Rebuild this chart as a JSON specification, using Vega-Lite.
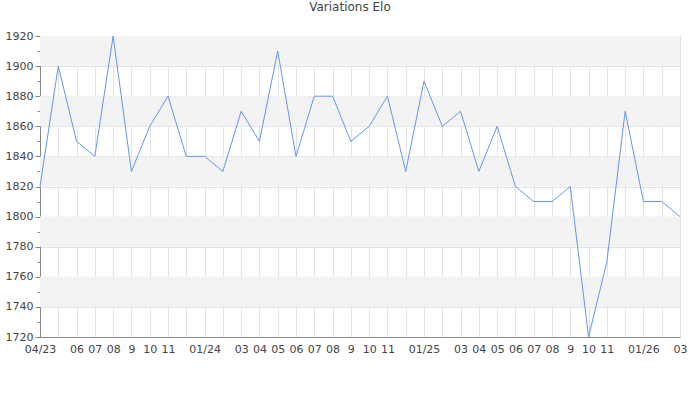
{
  "$schema": "https://vega.github.io/schema/vega-lite/v6.json",
  "autosize": "none",
  "padding": {"left": 40, "top": 36, "right": 20, "bottom": 63},
  "width": 640,
  "height": 301,
  "background": "white",
  "title": {
    "text": "Variations Elo",
    "font": "DejaVu Sans",
    "fontSize": 12,
    "fontWeight": "normal",
    "color": "#444",
    "anchor": "middle",
    "dx": -10,
    "offset": 16
  },
  "config": {
    "view": {"stroke": null},
    "axis": {"labelFont": "DejaVu Sans", "labelFontSize": 11, "labelColor": "#444", "domainColor": "#888", "tickColor": "#888", "gridColor": "#e2e2e2", "gridWidth": 1}
  },
  "layer": [
    {
      "data": {"values": [
        {"lo": 1740, "hi": 1760}, {"lo": 1780, "hi": 1800}, {"lo": 1820, "hi": 1840}, {"lo": 1860, "hi": 1880}, {"lo": 1900, "hi": 1920}
      ]},
      "mark": {"type": "rect", "color": "#f3f3f3"},
      "encoding": {
        "y": {
          "field": "lo", "type": "quantitative",
          "scale": {"domain": [1720, 1920], "nice": false, "zero": false},
          "axis": {
            "title": null, "grid": true, "format": "d",
            "values": [1720, 1730, 1740, 1750, 1760, 1770, 1780, 1790, 1800, 1810, 1820, 1830, 1840, 1850, 1860, 1870, 1880, 1890, 1900, 1910, 1920],
            "labelExpr": "datum.value % 20 == 0 ? datum.label : ''",
            "tickSize": {"expr": "datum.value % 20 == 0 ? 5 : 3"},
            "gridOpacity": {"expr": "datum.value % 20 == 0 ? 1 : 0"},
            "labelPadding": 2
          }
        },
        "y2": {"field": "hi"}
      }
    },
    {
      "data": {"values": [
        {"month": "2023-04", "elo": 1820}, {"month": "2023-05", "elo": 1900}, {"month": "2023-06", "elo": 1850},
        {"month": "2023-07", "elo": 1840}, {"month": "2023-08", "elo": 1920}, {"month": "2023-09", "elo": 1830},
        {"month": "2023-10", "elo": 1860}, {"month": "2023-11", "elo": 1880}, {"month": "2023-12", "elo": 1840},
        {"month": "2024-01", "elo": 1840}, {"month": "2024-02", "elo": 1830}, {"month": "2024-03", "elo": 1870},
        {"month": "2024-04", "elo": 1850}, {"month": "2024-05", "elo": 1910}, {"month": "2024-06", "elo": 1840},
        {"month": "2024-07", "elo": 1880}, {"month": "2024-08", "elo": 1880}, {"month": "2024-09", "elo": 1850},
        {"month": "2024-10", "elo": 1860}, {"month": "2024-11", "elo": 1880}, {"month": "2024-12", "elo": 1830},
        {"month": "2025-01", "elo": 1890}, {"month": "2025-02", "elo": 1860}, {"month": "2025-03", "elo": 1870},
        {"month": "2025-04", "elo": 1830}, {"month": "2025-05", "elo": 1860}, {"month": "2025-06", "elo": 1820},
        {"month": "2025-07", "elo": 1810}, {"month": "2025-08", "elo": 1810}, {"month": "2025-09", "elo": 1820},
        {"month": "2025-10", "elo": 1720}, {"month": "2025-11", "elo": 1770}, {"month": "2025-12", "elo": 1870},
        {"month": "2026-01", "elo": 1810}, {"month": "2026-02", "elo": 1810}, {"month": "2026-03", "elo": 1800}
      ]},
      "mark": {"type": "line", "color": "#6495ed", "strokeWidth": 1, "clip": false},
      "encoding": {
        "x": {
          "field": "month", "type": "ordinal", "sort": null,
          "scale": {"type": "point", "padding": 0},
          "axis": {
            "title": null, "ticks": false, "labelAngle": 0, "labelPadding": 6, "labelOverlap": false, "labelFlush": false,
            "grid": true, "domain": true,
            "labelExpr": "datum.value == '2023-04' ? '04/23' : (datum.value == '2023-05' || slice(datum.value, 5) == '12' || slice(datum.value, 5) == '02') ? '' : slice(datum.value, 5) == '01' ? '01/' + slice(datum.value, 2, 4) : slice(datum.value, 5) == '09' ? '9' : slice(datum.value, 5)"
          }
        },
        "y": {
          "field": "elo", "type": "quantitative",
          "scale": {"domain": [1720, 1920], "nice": false, "zero": false},
          "axis": {
            "title": null, "grid": true, "format": "d",
            "values": [1720, 1730, 1740, 1750, 1760, 1770, 1780, 1790, 1800, 1810, 1820, 1830, 1840, 1850, 1860, 1870, 1880, 1890, 1900, 1910, 1920],
            "labelExpr": "datum.value % 20 == 0 ? datum.label : ''",
            "tickSize": {"expr": "datum.value % 20 == 0 ? 5 : 3"},
            "gridOpacity": {"expr": "datum.value % 20 == 0 ? 1 : 0"},
            "labelPadding": 2
          }
        }
      }
    }
  ]
}
